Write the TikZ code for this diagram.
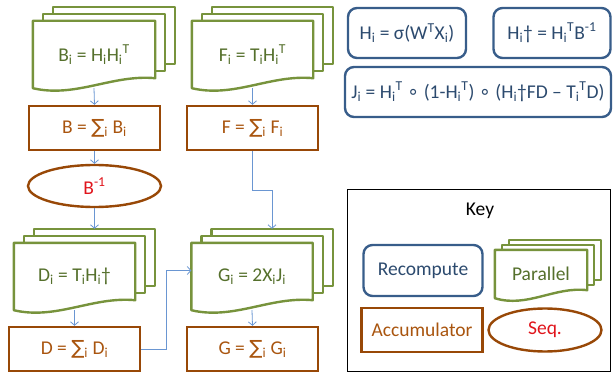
\documentclass[tikz,border=0pt]{standalone}
\usepackage{fontspec}
\setmainfont{Carlito}
\newfontfamily\symfont{DejaVu Sans}
\usetikzlibrary{shapes.geometric,arrows.meta,calc}

\pgfdeclarelayer{sheets}
\pgfsetlayers{sheets,main}

\definecolor{docgreen}{HTML}{77933C}
\definecolor{doctext}{HTML}{55702C}
\definecolor{accbrown}{HTML}{984807}
\definecolor{acctext}{HTML}{A9550F}
\definecolor{seqred}{HTML}{E0141B}
\definecolor{recblue}{HTML}{385D8A}
\definecolor{rectext}{HTML}{2C4A6E}
\definecolor{flowblue}{HTML}{6A96D2}

\newcommand{\sumop}{{\symfont ∑}}
\newcommand{\ringop}{{\symfont ∘}}

\tikzset{
	base/.style={font=\fontsize{19.5}{23}\selectfont, inner sep=0pt},
	accbox/.style={base, draw=accbrown, line width=2.4pt, text=acctext, minimum width=131, minimum height=44},
	seqbox/.style={base, ellipse, draw=accbrown, line width=2.4pt, text=seqred},
	recbox/.style={base, draw=recblue, line width=2.4pt, rounded corners=9pt, text=rectext, minimum height=50},
	docsheet/.style={base, text=doctext},
	docline/.style={draw=docgreen, line width=2.4pt, fill=white, line join=round},
	flow/.style={draw=flowblue, line width=0.8pt, -{Straight Barb[length=3.5pt,width=8pt]}},
}

% #1 name, #2 at, #3 width, #4 height, #5 sheet dx, #6 sheet dy, #7 corner rise, #8 text
\newcommand{\docstack}[8]{%
	\node[docsheet, minimum width=#3, minimum height=#4] (#1) at #2 {#8};
	\begin{pgfonlayer}{sheets}
		\foreach \k in {2,1}
		\draw[docline] ($(#1.north west)+(\k*#5,-\k*#6)$) rectangle ($(#1.south east)+(\k*#5,-#7-\k*#6)$);
		\draw[docline] (#1.north west) -- (#1.north east) -- ($(#1.south east)+(0,-#7)$)
		.. controls ($(#1.south west)!0.65!(#1.south east)+(0,-#7-4)$) and ($(#1.south west)!0.35!(#1.south east)+(0,10)$) .. (#1.south west) -- cycle;
	\end{pgfonlayer}
}

\begin{document}
\begin{tikzpicture}[x=1pt,y=-1pt]
	\useasboundingbox (0,0) rectangle (613,374);

	% left column
	\docstack{bi}{(94,54.5)}{122}{67}{10}{7}{10}{B\textsubscript{i} = H\textsubscript{i}H\textsubscript{i}\textsuperscript{T}}
	\node[accbox] (bsum) at (94.5,128) {B = \sumop\textsubscript{i} B\textsubscript{i}};
	\node[seqbox, minimum width=133, minimum height=42] (binv) at (94.5,186) {B\textsuperscript{-1}};
	\docstack{di}{(74.5,276.5)}{121}{67}{10}{7}{10}{D\textsubscript{i} = T\textsubscript{i}H\textsubscript{i}†}
	\node[accbox] (dsum) at (74.5,349) {D = \sumop\textsubscript{i} D\textsubscript{i}};

	% right column
	\docstack{fi}{(252.5,54.5)}{121}{67}{10}{7}{10}{F\textsubscript{i} = T\textsubscript{i}H\textsubscript{i}\textsuperscript{T}}
	\node[accbox] (fsum) at (252.5,128) {F = \sumop\textsubscript{i} F\textsubscript{i}};
	\docstack{gi}{(252,276.5)}{121}{67}{10}{7}{10}{G\textsubscript{i} = 2X\textsubscript{i}J\textsubscript{i}}
	\node[accbox] (gsum) at (252.5,349) {G = \sumop\textsubscript{i} G\textsubscript{i}};

	\draw[flow] (bi.south) -- (bsum.north);
	\draw[flow] (bsum.south) -- (binv.north);
	\draw[flow] (binv.south) -- ($(binv.south |- di.north)+(0,-14)$);
	\draw[flow] (di.south) -- (dsum.north);
	\draw[flow] (fi.south) -- (fsum.north);
	\draw[flow] (fsum.south) -- ++(0,39) -| ($(gi.north)+(20,-14)$);
	\draw[flow] (dsum.east) -- ++(25,0) |- ($(gi.west)+(0,-6)$);
	\draw[flow] (gi.south) -- (gsum.north);

	% definitions
	\node[recbox, minimum width=118] (hdef) at (407,33) {H\textsubscript{i} = σ(W\textsuperscript{T}X\textsubscript{i})};
	\node[recbox, minimum width=117] (hdag) at (552,33) {H\textsubscript{i}† = H\textsubscript{i}\textsuperscript{T}B\textsuperscript{-1}};
	\node[recbox, minimum width=266] (jdef) at (478,92) {J\textsubscript{i} = H\textsubscript{i}\textsuperscript{T} \ringop{} (1-H\textsubscript{i}\textsuperscript{T}) \ringop{} (H\textsubscript{i}†FD – T\textsubscript{i}\textsuperscript{T}D)};

	% key
	\node[draw=black, line width=1.8pt, minimum width=263, minimum height=182] (keybox) at (479,280.5) {};
	\node[base] (keylabel) at (480,211) {Key};
	\node[recbox, minimum width=119, minimum height=51] (krec) at (423,270.5) {Recompute};
	\docstack{kpar}{(541,274)}{92}{48}{7}{5}{8}{Parallel}
	\node[accbox, minimum width=121] (kacc) at (422,330) {Accumulator};
	\node[seqbox, minimum width=113, minimum height=43] (kseq) at (545,330) {Seq.};
\end{tikzpicture}
\end{document}
